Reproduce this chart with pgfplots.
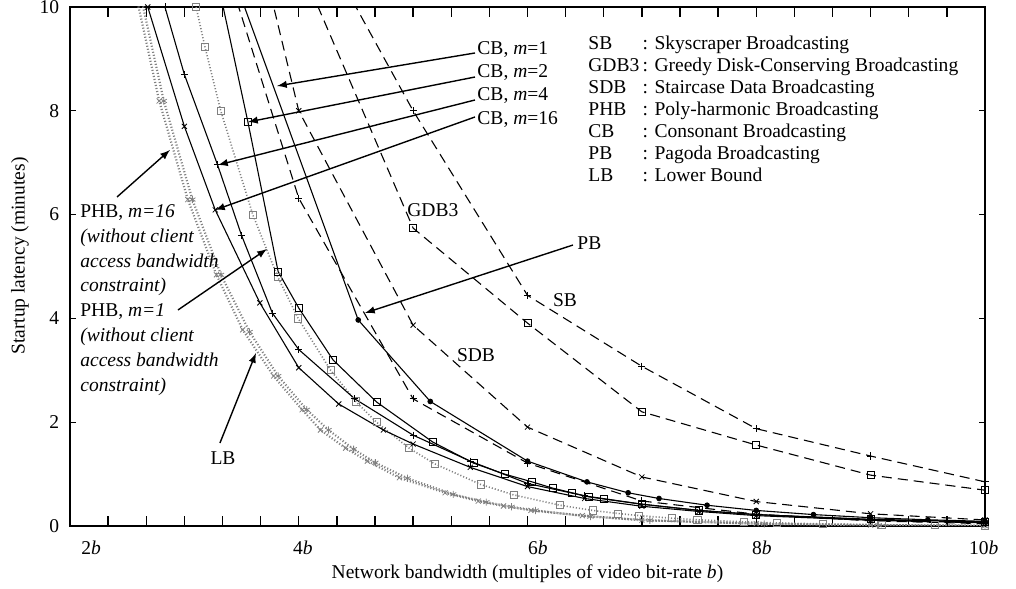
\documentclass[border=0pt]{standalone}
\usepackage{fontspec}
\setmainfont{Liberation Serif}
\usepackage{pgfplots}
\pgfplotsset{compat=1.18}
\begin{document}
\fontsize{9.8}{11}\selectfont
\begin{tikzpicture}
\useasboundingbox (-35bp,-31.5bp) rectangle (473bp,263bp);
\begin{axis}[
  scale only axis, width=457.5bp, height=259.5bp,
  xmin=2, xmax=10, ymin=0, ymax=10,
  xtick={2,4,6,8,10}, xticklabels={},
  ytick={0,2,4,6,8,10},
  yticklabels={0,2,4,6,8,10},
  major tick length=0pt,
  axis line style={line width=0.8pt},
  xlabel={Network bandwidth (multiples of video bit-rate \textit{b})},
  xlabel style={at={(axis description cs:0.5,0)}, anchor=base, yshift=-26bp},
  ylabel={Startup latency (minutes)},
  ylabel style={at={(axis description cs:-0.0546,0.52)}, anchor=center},
  yticklabel style={xshift=-2bp},
  every axis plot/.append style={black, line width=0.55pt},
  mk/.style={mark size=1.8pt, mark options={solid, line width=0.4pt}},
  dsh/.style={dash pattern=on 5bp off 3bp},
  dt/.style={densely dotted, line width=1.1pt, gray},
  after end axis/.code={
    \node at (axis cs:2.184,0) [yshift=-11bp] {2\textit{b}};
    \node at (axis cs:4.037,0) [yshift=-11bp] {4\textit{b}};
    \node at (axis cs:6.090,0) [yshift=-11bp] {6\textit{b}};
    \node at (axis cs:8.050,0) [yshift=-11bp] {8\textit{b}};
    \node at (axis cs:9.990,0) [yshift=-11bp] {10\textit{b}};
  },
]
% tick marks: every b/3 along bottom and top, every 2 minutes on both sides
\pgfplotsinvokeforeach{2.3333,2.6667,3,3.3333,3.6667,4,4.3333,4.6667,5,5.3333,5.6667,6,6.3333,6.6667,7,7.3333,7.6667,8,8.3333,8.6667,9,9.3333,9.6667}{
  \draw[line width=0.7pt] (axis cs:#1,0) -- (axis cs:#1,0.19);
  \draw[line width=0.7pt] (axis cs:#1,10) -- (axis cs:#1,9.81);
}
\pgfplotsinvokeforeach{2,4,6,8}{
  \draw[line width=0.7pt] (axis cs:2,#1) -- (axis cs:2.055,#1);
  \draw[line width=0.7pt] (axis cs:10,#1) -- (axis cs:9.945,#1);
}
% LB: lower bound
\addplot[dt, mk, mark=x] coordinates {(2.57,10.3) (2.78,8.19) (3.03,6.29) (3.28,4.84) (3.51,3.78) (3.78,2.89) (4.03,2.24) (4.19,1.85) (4.41,1.50) (4.6,1.25) (4.88,0.93) (5.28,0.64) (5.57,0.48) (5.79,0.385) (6.03,0.30) (6.48,0.20) (7,0.11) (8,0.045) (9,0.018) (10,0.006)};
% PHB, m=16, without client access bandwidth constraint
\addplot[dt, mk, mark=asterisk] coordinates {(2.61,10.3) (2.82,8.19) (3.07,6.29) (3.32,4.84) (3.57,3.74) (3.82,2.89) (4.07,2.24) (4.26,1.85) (4.48,1.48) (4.67,1.22) (4.95,0.92) (5.35,0.61) (5.64,0.46) (5.86,0.37) (6.07,0.30) (6.55,0.18) (7.07,0.11) (8.07,0.04) (9.07,0.015) (10,0.006)};
% PHB, m=1, without client access bandwidth constraint
\addplot[dt, line width=0.8pt, mk, mark=square] coordinates {(3.103,10) (3.180,9.23) (3.318,8) (3.598,6) (3.816,4.8) (3.995,4) (4.279,3) (4.499,2.4) (4.680,2) (4.965,1.5) (5.187,1.2) (5.591,0.8) (5.878,0.6) (6.283,0.4) (6.57,0.3) (6.793,0.24) (6.975,0.2) (7.262,0.15) (7.485,0.12) (7.891,0.08) (8.178,0.06) (8.583,0.04) (9.094,0.024) (9.564,0.015) (10,0.01)};
% CB, m=16
\addplot[mk, mark=x] coordinates {(2.62,10.5) (2.68,10) (3.0,7.7) (3.27,6.09) (3.66,4.30) (4.0,3.05) (4.35,2.35) (4.74,1.85) (5.0,1.58) (5.5,1.13) (6,0.76) (6.5,0.53) (7,0.38) (7.5,0.28) (8,0.2) (9,0.11) (10,0.06)};
% CB, m=4
\addplot[mk, mark=+] coordinates {(2.78,10.5) (2.83,10) (3.0,8.7) (3.29,6.96) (3.5,5.6) (3.77,4.1) (4.0,3.4) (4.49,2.45) (5.0,1.75) (5.5,1.25) (6,0.82) (6.5,0.58) (7,0.42) (7.5,0.3) (8,0.22) (9,0.12) (10,0.07)};
% CB, m=2
\addplot[mk, mark=square] coordinates {(3.30,10.4) (3.556,7.78) (3.82,4.90) (4.0,4.2) (4.3,3.2) (4.68,2.39) (5.17,1.62) (5.53,1.21) (5.80,1.0) (6.04,0.85) (6.22,0.73) (6.39,0.64) (6.54,0.56) (6.67,0.52) (7,0.42) (7.5,0.3) (8,0.22) (9,0.13) (10,0.08)};
% CB, m=1
\addplot[mk, mark=*, mark size=1.2pt] coordinates {(3.46,10.4) (4.52,3.97) (5.15,2.40) (6.0,1.25) (6.52,0.85) (6.88,0.64) (7.15,0.53) (7.57,0.40) (8,0.30) (8.5,0.22) (9,0.16) (9.5,0.12) (10,0.09)};
% PB
\addplot[dsh, mk, mark=+] coordinates {(3,13.33) (4,6.316) (5,2.449) (6,1.212) (7,0.482) (8,0.227) (9,0.1) (10,0.045)};
% SB
\addplot[dsh, mk, mark=+] coordinates {(4,12) (5,8) (6,4.444) (7,3.077) (8,1.875) (9,1.348) (10,0.851)};
% GDB3
\addplot[dsh, mk, mark=square] coordinates {(4,10.87) (5,5.74) (6,3.91) (7,2.2) (8,1.56) (9,0.98) (10,0.69)};
% SDB
\addplot[dsh, mk, mark=x] coordinates {(3,17.14) (4,8) (5,3.87) (6,1.905) (7,0.945) (8,0.471) (9,0.235) (10,0.117)};

% annotations
\begin{scope}[-latex, line width=0.7pt]
\draw (axis cs:5.541,9.114) -- (axis cs:3.810,8.478);
\draw (axis cs:5.541,8.651) -- (axis cs:3.556,7.784);
\draw (axis cs:5.541,8.208) -- (axis cs:3.294,6.956);
\draw (axis cs:5.541,7.881) -- (axis cs:3.268,6.089);
\draw (axis cs:6.398,5.414) -- (axis cs:4.579,4.104);
\draw (axis cs:3.311,1.599) -- (axis cs:3.626,3.333);
\draw (axis cs:2.411,6.339) -- (axis cs:2.874,7.245);
\draw (axis cs:2.944,4.162) -- (axis cs:3.722,5.337);
\end{scope}
\node[anchor=west, inner sep=0pt] at (axis cs:5.559,9.171) {CB, \textit{m}=1};
\node[anchor=west, inner sep=0pt] at (axis cs:5.559,8.728) {CB, \textit{m}=2};
\node[anchor=west, inner sep=0pt] at (axis cs:5.559,8.285) {CB, \textit{m}=4};
\node[anchor=west, inner sep=0pt] at (axis cs:5.559,7.823) {CB, \textit{m}=16};
\node[anchor=west, inner sep=0pt] at (axis cs:6.433,5.453) {PB};
\node[anchor=west, inner sep=0pt] at (axis cs:4.946,6.089) {GDB3};
\node[inner sep=0pt] at (axis cs:6.328,4.355) {SB};
\node[inner sep=0pt] at (axis cs:5.550,3.295) {SDB};
\node[inner sep=0pt] at (axis cs:3.338,1.310) {LB};
\node[anchor=west, inner sep=0pt, align=left, font=\fontsize{9.8}{12.5}\selectfont] at (axis cs:2.087,4.355)
  {PHB, \textit{m=16}\\\textit{(without client}\\\textit{access bandwidth}\\\textit{constraint)}\\PHB, \textit{m=1}\\\textit{(without client}\\\textit{access bandwidth}\\\textit{constraint)}};
\node[anchor=west, inner sep=0pt, font=\fontsize{9.8}{11}\selectfont] at (axis cs:6.529,7.996) {%
  \begin{tabular}{@{}l@{\,}l@{}}
  SB & : Skyscraper Broadcasting\\
  GDB3 & : Greedy Disk-Conserving Broadcasting\\
  SDB & : Staircase Data Broadcasting\\
  PHB & : Poly-harmonic Broadcasting\\
  CB & : Consonant Broadcasting\\
  PB & : Pagoda Broadcasting\\
  LB & : Lower Bound
  \end{tabular}};
\end{axis}
\end{tikzpicture}
\end{document}
